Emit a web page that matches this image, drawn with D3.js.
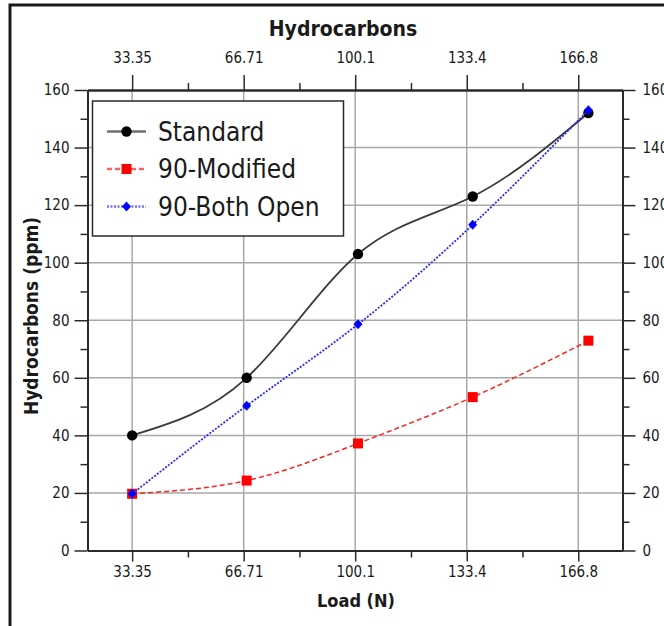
<!DOCTYPE html>
<html>
<head>
<meta charset="utf-8">
<script src="https://cdn.jsdelivr.net/npm/d3@7"></script>
<style>
  body { margin: 0; background: #fff; }
  svg text { font-family: "DejaVu Sans Condensed", "DejaVu Sans", sans-serif; font-stretch: condensed; fill: #1a1a1a; }
</style>
</head>
<body>
<div id="chart"></div>
<script>
// data
var loads = [33.35, 67.6, 100.9, 135.2, 169.8];
var standard = [40, 60, 103, 123, 152];
var modified90 = [19.7, 24.3, 37.2, 53.3, 72.9];
var bothOpen90 = [19.7, 50.3, 78.6, 113.2, 153];

var xTickValues = [33.35, 66.71, 100.06, 133.42, 166.77];
var xTickLabels = ["33.35", "66.71", "100.1", "133.4", "166.8"];
var yTickValues = [0, 20, 40, 60, 80, 100, 120, 140, 160];

var svgWidth = 664;
var svgHeight = 626;

var plot = { left: 87.5, right: 622.5, top: 90, bottom: 550.5 };

var svg = d3.select("#chart")
  .append("svg")
  .attr("width", svgWidth)
  .attr("height", svgHeight);

svg.append("rect")
  .attr("width", svgWidth)
  .attr("height", svgHeight)
  .attr("fill", "#fff");

// outer frame (only left and top show inside the window)
svg.append("rect")
  .attr("x", 10)
  .attr("y", 5)
  .attr("width", 720)
  .attr("height", 720)
  .attr("fill", "none")
  .attr("stroke", "#1a1a1a")
  .attr("stroke-width", 3);

var x = d3.scaleLinear().domain([20, 180]).range([plot.left, plot.right]);
var y = d3.scaleLinear().domain([0, 160]).range([plot.bottom, plot.top]);

// minor ticks sit halfway between the major ones
var xMinor = d3.range(xTickValues.length - 1).map(i => (xTickValues[i] + xTickValues[i + 1]) / 2);
var yMinor = d3.range(10, 160, 20);

// grid
var grid = svg.append("g").attr("stroke", "#a8a8a8").attr("stroke-width", 1.5);
grid.selectAll(".vgrid")
  .data(xTickValues)
  .enter()
  .append("line")
  .attr("x1", d => x(d)).attr("x2", d => x(d))
  .attr("y1", plot.top).attr("y2", plot.bottom);
grid.selectAll(".hgrid")
  .data(yTickValues.slice(1, -1))
  .enter()
  .append("line")
  .attr("x1", plot.left).attr("x2", plot.right)
  .attr("y1", d => y(d)).attr("y2", d => y(d));

function styleAxis(g) {
  g.select(".domain").attr("stroke", "#2a2a2a").attr("stroke-width", 2);
  g.selectAll(".tick line").attr("stroke", "#2a2a2a").attr("stroke-width", 1.5);
  g.selectAll(".tick text").attr("fill", "#1a1a1a").style("font-size", "15px");
}

var fmtX = (d, i) => xTickLabels[i];

// bottom
svg.append("g")
  .attr("transform", `translate(0, ${plot.bottom})`)
  .call(d3.axisBottom(x).tickValues(xMinor).tickSize(7).tickSizeOuter(0).tickFormat(""))
  .call(styleAxis);
svg.append("g")
  .attr("transform", `translate(0, ${plot.bottom})`)
  .call(d3.axisBottom(x).tickValues(xTickValues).tickSize(11).tickPadding(5).tickSizeOuter(0).tickFormat(fmtX))
  .call(styleAxis);

// top
svg.append("g")
  .attr("transform", `translate(0, ${plot.top})`)
  .call(d3.axisTop(x).tickValues(xMinor).tickSize(7).tickSizeOuter(0).tickFormat(""))
  .call(styleAxis);
svg.append("g")
  .attr("transform", `translate(0, ${plot.top})`)
  .call(d3.axisTop(x).tickValues(xTickValues).tickSize(15).tickPadding(12).tickSizeOuter(0).tickFormat(fmtX))
  .call(styleAxis);

// left
svg.append("g")
  .attr("transform", `translate(${plot.left}, 0)`)
  .call(d3.axisLeft(y).tickValues(yMinor).tickSize(7).tickSizeOuter(0).tickFormat(""))
  .call(styleAxis);
svg.append("g")
  .attr("transform", `translate(${plot.left}, 0)`)
  .call(d3.axisLeft(y).tickValues(yTickValues).tickSize(13).tickPadding(5).tickSizeOuter(0))
  .call(styleAxis);

// right (labels run off the window edge, as in the reference)
svg.append("g")
  .attr("transform", `translate(${plot.right}, 0)`)
  .call(d3.axisRight(y).tickValues(yMinor).tickSize(7).tickSizeOuter(0).tickFormat(""))
  .call(styleAxis);
svg.append("g")
  .attr("transform", `translate(${plot.right}, 0)`)
  .call(d3.axisRight(y).tickValues(yTickValues).tickSize(13).tickPadding(7).tickSizeOuter(0))
  .call(styleAxis);

// series
var series = [
  { name: "Standard", values: standard, color: "#3a3a3a", legendColor: "#707070", width: 1.8, dash: null, marker: "circle" },
  { name: "90-Modified", values: modified90, color: "#ff2020", legendColor: "#ff6060", width: 1.5, dash: "5,3", marker: "square" },
  { name: "90-Both Open", values: bothOpen90, color: "#2a2aff", legendColor: "#7070ff", width: 1.8, dash: "2,1.5", marker: "diamond" }
];

var line = d3.line()
  .x((d, i) => x(loads[i]))
  .y(d => y(d))
  .curve(d3.curveNatural);

function drawMarker(g, type, color, cx, cy) {
  if (type === "circle") {
    g.append("circle").attr("cx", cx).attr("cy", cy).attr("r", 5.2).attr("fill", "#000");
  } else if (type === "square") {
    g.append("rect").attr("x", cx - 5).attr("y", cy - 5).attr("width", 10).attr("height", 10).attr("fill", "#ff0000");
  } else {
    g.append("path")
      .attr("d", `M${cx},${cy - 5}L${cx + 4.5},${cy}L${cx},${cy + 5}L${cx - 4.5},${cy}Z`)
      .attr("fill", "#0000ff");
  }
}

series.forEach(function (s) {
  var g = svg.append("g");
  g.append("path")
    .datum(s.values)
    .attr("d", line)
    .attr("fill", "none")
    .attr("stroke", s.color)
    .attr("stroke-width", s.width)
    .attr("stroke-dasharray", s.dash);
  s.values.forEach(function (v, i) {
    drawMarker(g, s.marker, s.color, x(loads[i]), y(v));
  });
});

// legend
var legend = svg.append("g");
legend.append("rect")
  .attr("x", 92.5)
  .attr("y", 101)
  .attr("width", 251)
  .attr("height", 135)
  .attr("fill", "#fff")
  .attr("stroke", "#2a2a2a")
  .attr("stroke-width", 1.5);

series.forEach(function (s, i) {
  var ly = 131.5 + i * 37.5;
  legend.append("line")
    .attr("x1", 107).attr("x2", 146)
    .attr("y1", ly).attr("y2", ly)
    .attr("stroke", s.legendColor)
    .attr("stroke-width", 2.5)
    .attr("stroke-dasharray", s.dash);
  drawMarker(legend, s.marker, s.color, 126.5, ly);
  legend.append("text")
    .attr("x", 158)
    .attr("y", ly)
    .attr("dy", "0.36em")
    .style("font-size", "26px")
    .text(s.name);
});

// titles
svg.append("text")
  .attr("x", 343)
  .attr("y", 36)
  .attr("text-anchor", "middle")
  .style("font-size", "21px")
  .style("font-weight", "bold")
  .text("Hydrocarbons");

svg.append("text")
  .attr("x", 356)
  .attr("y", 607)
  .attr("text-anchor", "middle")
  .style("font-size", "18px")
  .style("font-weight", "bold")
  .text("Load (N)");

svg.append("text")
  .attr("transform", "translate(38, 316) rotate(-90)")
  .attr("text-anchor", "middle")
  .style("font-size", "19px")
  .style("font-weight", "bold")
  .text("Hydrocarbons (ppm)");
</script>
</body>
</html>
